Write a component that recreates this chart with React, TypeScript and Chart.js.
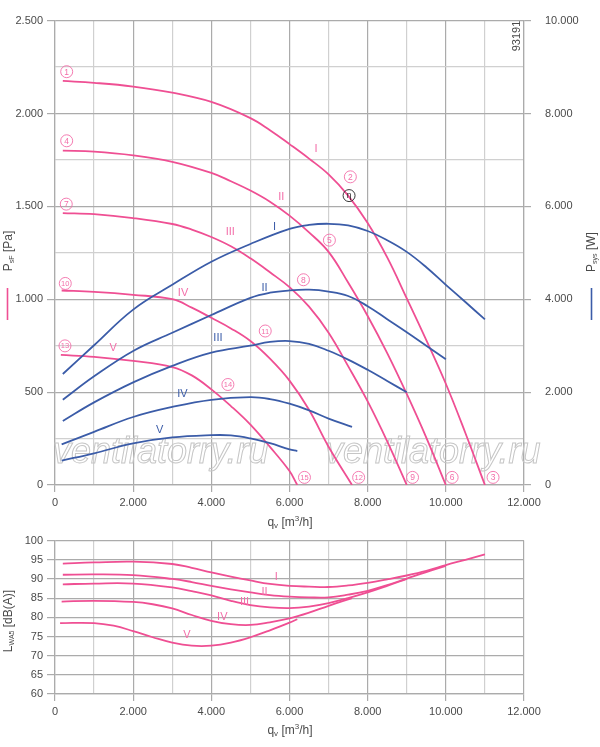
import React, { useEffect, useRef } from "react";
import { Chart, registerables } from "chart.js";
Chart.register(...registerables);

const FONT = "'Liberation Sans', Arial, sans-serif";
const PINK = "#ef4f93";
const PINK_LABEL = "#f36ea9";
const BLUE = "#3b5ca8";
const GRID_MAJOR = "#ababab";
const GRID_MINOR = "#d0d0d0";
const TEXT = "#4a4a4a";

// ---------- top chart: pressure curves p_sF [Pa] vs q_v [m3/h] ----------
const flowPressI = [200, 1000, 2000, 3000, 4000, 5000, 5500, 6000, 6500, 7000, 7500, 8000, 8500, 9000, 9500, 10000, 10500, 11000];
const pressI = [2175, 2165, 2145, 2112, 2062, 1975, 1910, 1835, 1757, 1672, 1558, 1410, 1225, 1005, 780, 545, 280, 0];
const flowPressII = [200, 1000, 2000, 3000, 4000, 4500, 5000, 5500, 6000, 6500, 7000, 7500, 8000, 8500, 9000, 9500, 10000];
const pressII = [1800, 1795, 1775, 1740, 1680, 1635, 1585, 1525, 1450, 1360, 1255, 1090, 910, 710, 490, 255, 0];
const flowPressIII = [200, 1000, 2000, 3000, 3500, 4000, 4500, 5000, 5500, 6000, 6500, 7000, 7500, 8000, 8500, 9000];
const pressIII = [1464, 1458, 1437, 1405, 1375, 1335, 1285, 1220, 1145, 1065, 960, 820, 640, 450, 235, 0];
const flowPressIV = [170, 1000, 2000, 3000, 3500, 4000, 4500, 5000, 5500, 6000, 6500, 7000, 7600];
const pressIV = [1047, 1040, 1024, 1000, 955, 900, 843, 775, 680, 562, 405, 206, 0];
const flowPressV = [150, 1000, 2000, 3000, 3500, 4000, 4500, 5000, 5500, 6000, 6200];
const pressV = [700, 690, 668, 635, 590, 515, 425, 325, 205, 75, 0];

// ---------- top chart: power curves P_sys [W] ----------
const flowPowI = [200, 1000, 2000, 3000, 4000, 5000, 6000, 6500, 7000, 7500, 8000, 8500, 9000, 9500, 10000, 10500, 11000];
const powI = [2390, 3010, 3777, 4311, 4808, 5190, 5515, 5600, 5625, 5590, 5470, 5270, 5020, 4690, 4311, 3940, 3565];
const flowPowII = [200, 1000, 2000, 3000, 4000, 5000, 5500, 6000, 6500, 7000, 7500, 8000, 8500, 9000, 9500, 10000];
const powII = [1835, 2340, 2887, 3278, 3660, 4030, 4140, 4190, 4205, 4165, 4070, 3850, 3570, 3290, 3000, 2710];
const flowPowIII = [200, 1000, 2000, 3000, 4000, 5000, 5500, 6000, 6500, 7000, 7500, 8000, 8500, 9000];
const powIII = [1380, 1780, 2211, 2567, 2851, 3000, 3080, 3100, 3040, 2890, 2700, 2480, 2240, 1997];
const flowPowIV = [170, 1000, 2000, 3000, 4000, 5000, 5500, 6000, 6500, 7000, 7600];
const powIV = [875, 1145, 1464, 1680, 1835, 1891, 1850, 1750, 1607, 1430, 1251];
const flowPowV = [170, 1000, 2000, 3000, 4000, 4500, 5000, 5500, 6000, 6200];
const powV = [525, 683, 896, 1024, 1073, 1068, 1003, 900, 768, 732];

// ---------- bottom chart: sound power L_WA5 [dB(A)] ----------
const flowSoundI = [200, 1000, 2000, 3000, 3500, 4000, 4500, 5000, 5500, 6000, 6500, 7000, 7500, 8000, 8500, 9000, 9500, 10000, 10500, 11000];
const soundI = [94.0, 94.3, 94.5, 93.9, 92.9, 91.7, 90.6, 89.6, 88.7, 88.2, 88.0, 87.9, 88.3, 89.0, 89.9, 90.9, 92.1, 93.6, 95.0, 96.4];
const flowSoundII = [200, 1000, 2000, 3000, 3500, 4000, 4500, 5000, 5500, 6000, 6500, 7000, 7500, 8000, 8500, 9000, 9500, 10000];
const soundII = [91.1, 91.2, 91.0, 90.0, 89.2, 88.2, 87.3, 86.5, 85.8, 85.4, 85.2, 85.2, 85.9, 86.9, 88.4, 90.1, 91.8, 93.4];
const flowSoundIII = [200, 1000, 2000, 3000, 3500, 4000, 4500, 5000, 5500, 6000, 6500, 7000, 7500, 8000, 8500, 9000];
const soundIII = [88.6, 88.8, 88.8, 87.8, 86.8, 85.7, 84.3, 83.2, 82.6, 82.4, 82.8, 83.7, 85.0, 86.5, 88.2, 90.0];
const flowSoundIV = [170, 1000, 2000, 2500, 3000, 3500, 4000, 4500, 5000, 5500, 6000, 6500, 7000, 7600];
const soundIV = [84.1, 84.3, 84.0, 83.4, 82.3, 80.6, 79.1, 78.2, 78.0, 78.7, 79.7, 81.2, 83.0, 85.0];
const flowSoundV = [130, 1000, 1500, 2000, 2500, 3000, 3500, 4000, 4500, 5000, 5500, 6000, 6200];
const soundV = [78.5, 78.5, 77.8, 76.4, 74.8, 73.4, 72.6, 72.6, 73.4, 74.8, 76.6, 78.6, 79.5];

// ---------- axis ticks ----------
const flowMin = 0, flowMax = 12000, flowStep = 1000, flowLabelStep = 2000;
const pressMin = 0, pressMax = 2500, pressStep = 250, pressLabelStep = 500;
const powMin = 0, powMax = 10000, powStep = 2000;
const soundMin = 60, soundMax = 100, soundStep = 5;

// ---------- text labels (anchored in data coordinates) ----------
const romanNames = ["I", "II", "III", "IV", "V"];
const pinkLabelFlow = [6681, 5788, 4486, 3276, 1488];
const pinkLabelPress = [1807, 1553, 1362, 1033, 736];
const blueLabelFlow = [5617, 5361, 4169, 3260, 2681];
const blueLabelPress = [1389, 1063, 790, 491, 294];
const pointNumbers = ["1", "2", "3", "4", "5", "6", "7", "8", "9", "10", "11", "12", "13", "14", "15"];
const pointFlow = [299, 7557, 11208, 299, 7021, 10161, 288, 6357, 9148, 263, 5379, 7769, 255, 4424, 6383];
const pointPress = [2225, 1659, 41, 1853, 1318, 41, 1512, 1105, 41, 1085, 829, 41, 749, 541, 41];
const etaFlow = 7524, etaPress = 1558;
const soundLabelFlow = [5660, 5361, 4851, 4281, 3378];
const soundLabelDb = [90.6, 86.6, 84.1, 80.0, 75.3];

const TOP_H = 530;
const BOT_H = 217;

const pts = (xs: number[], ys: number[]) => xs.map((x, i) => ({ x, y: ys[i] }));
const fmt = (v: number) => String(Math.round(v)).replace(/\B(?=(\d{3})+(?!\d))/g, ".");

type Part = { text: string; size: number; dy?: number };
function drawRich(ctx: CanvasRenderingContext2D, parts: Part[], cx: number, cy: number, rotate: boolean) {
  ctx.save();
  ctx.translate(cx, cy);
  if (rotate) ctx.rotate(-Math.PI / 2);
  let total = 0;
  const widths = parts.map((p) => {
    ctx.font = `${p.size}px ${FONT}`;
    const w = ctx.measureText(p.text).width;
    total += w;
    return w;
  });
  let x = -total / 2;
  ctx.textBaseline = "middle";
  ctx.textAlign = "left";
  ctx.fillStyle = TEXT;
  parts.forEach((p, i) => {
    ctx.font = `${p.size}px ${FONT}`;
    ctx.fillText(p.text, x, p.dy || 0);
    x += widths[i];
  });
  ctx.restore();
}

function drawCircled(ctx: CanvasRenderingContext2D, text: string, px: number, py: number, color: string) {
  ctx.beginPath();
  ctx.arc(px, py, 6, 0, Math.PI * 2);
  ctx.strokeStyle = color;
  ctx.lineWidth = 0.9;
  ctx.stroke();
  ctx.font = `${text.length > 1 ? 7.5 : 8.5}px ${FONT}`;
  ctx.fillStyle = color;
  ctx.textAlign = "center";
  ctx.textBaseline = "middle";
  ctx.fillText(text, px, py + 0.5);
}

const qvTitle: Part[] = [
  { text: "q", size: 12 },
  { text: "v", size: 8, dy: 3 },
  { text: " [m", size: 12 },
  { text: "3", size: 8, dy: -4 },
  { text: "/h]", size: 12 },
];

function flowAxis(height: number) {
  return {
    type: "linear" as const,
    min: flowMin,
    max: flowMax,
    afterFit: (s: any) => {
      s.height = height;
    },
    ticks: {
      stepSize: flowStep,
      autoSkip: false,
      maxRotation: 0,
      padding: 4,
      color: TEXT,
      font: { family: FONT, size: 11 },
      callback: (v: any) => (Number(v) % flowLabelStep === 0 ? fmt(Number(v)) : ""),
    },
    grid: {
      color: (c: any) => (c.tick && c.tick.value % flowLabelStep === 0 ? GRID_MAJOR : GRID_MINOR),
      tickColor: (c: any) => (c.tick && c.tick.value % flowLabelStep === 0 ? GRID_MAJOR : "rgba(0,0,0,0)"),
      lineWidth: 1.2,
      tickLength: 7,
    },
    border: { color: GRID_MAJOR, width: 1.2 },
  };
}

export default function App() {
  const topRef = useRef<HTMLCanvasElement>(null);
  const botRef = useRef<HTMLCanvasElement>(null);

  useEffect(() => {
    Chart.defaults.font.family = FONT;
    const line = (data: any[], color: string, axis: string) => ({
      data,
      borderColor: color,
      backgroundColor: color,
      borderWidth: 1.8,
      pointRadius: 0,
      fill: false,
      tension: 0.4,
      yAxisID: axis,
    });

    const pressFlows = [flowPressI, flowPressII, flowPressIII, flowPressIV, flowPressV];
    const pressVals = [pressI, pressII, pressIII, pressIV, pressV];
    const powFlows = [flowPowI, flowPowII, flowPowIII, flowPowIV, flowPowV];
    const powVals = [powI, powII, powIII, powIV, powV];
    const soundFlows = [flowSoundI, flowSoundII, flowSoundIII, flowSoundIV, flowSoundV];
    const soundVals = [soundI, soundII, soundIII, soundIV, soundV];

    const topDatasets = [
      ...powFlows.map((f, i) => line(pts(f, powVals[i]), BLUE, "yW")),
      ...pressFlows.map((f, i) => line(pts(f, pressVals[i]), PINK, "y")),
    ];

    const topOverlay = {
      id: "topOverlay",
      beforeDatasetsDraw(chart: any) {
        const ctx = chart.ctx as CanvasRenderingContext2D;
        ctx.save();
        ctx.font = `italic 36px ${FONT}`;
        ctx.strokeStyle = "#c6c6c6";
        ctx.lineWidth = 1;
        ctx.textAlign = "left";
        ctx.textBaseline = "alphabetic";
        ctx.strokeText("ventilatorry.ru", 53, 463);
        ctx.strokeText("ventilatorry.ru", 325, 463);
        ctx.restore();
      },
      afterDraw(chart: any) {
        const ctx = chart.ctx as CanvasRenderingContext2D;
        const x = chart.scales.x;
        const y = chart.scales.y;
        ctx.save();
        ctx.font = `11px ${FONT}`;
        ctx.textAlign = "center";
        ctx.textBaseline = "middle";
        romanNames.forEach((n, i) => {
          ctx.fillStyle = PINK_LABEL;
          ctx.fillText(n, x.getPixelForValue(pinkLabelFlow[i]), y.getPixelForValue(pinkLabelPress[i]));
          ctx.fillStyle = BLUE;
          ctx.fillText(n, x.getPixelForValue(blueLabelFlow[i]), y.getPixelForValue(blueLabelPress[i]));
        });
        pointNumbers.forEach((n, i) => {
          drawCircled(ctx, n, x.getPixelForValue(pointFlow[i]), y.getPixelForValue(pointPress[i]), PINK_LABEL);
        });
        drawCircled(ctx, "η", x.getPixelForValue(etaFlow), y.getPixelForValue(etaPress), "#222");
        ctx.save();
        ctx.translate(517, 36);
        ctx.rotate(-Math.PI / 2);
        ctx.font = `11px ${FONT}`;
        ctx.fillStyle = TEXT;
        ctx.textAlign = "center";
        ctx.textBaseline = "middle";
        ctx.fillText("93191", 0, 0);
        ctx.restore();
        drawRich(ctx, [{ text: "P", size: 12 }, { text: "sF", size: 7, dy: 3 }, { text: " [Pa]", size: 12 }], 9, 251, true);
        drawRich(ctx, [{ text: "P", size: 12 }, { text: "sys", size: 7, dy: 3 }, { text: " [W]", size: 12 }], 592, 252, true);
        drawRich(ctx, qvTitle, 290, 523, false);
        ctx.lineWidth = 1.6;
        ctx.strokeStyle = PINK;
        ctx.beginPath();
        ctx.moveTo(7.5, 288);
        ctx.lineTo(7.5, 320);
        ctx.stroke();
        ctx.strokeStyle = BLUE;
        ctx.beginPath();
        ctx.moveTo(591.5, 288);
        ctx.lineTo(591.5, 320);
        ctx.stroke();
        ctx.restore();
      },
    };

    const top = new Chart(topRef.current as HTMLCanvasElement, {
      type: "line",
      data: { datasets: topDatasets as any },
      options: {
        animation: false,
        responsive: false,
        maintainAspectRatio: false,
        layout: { padding: { top: 17, left: 0, right: 0, bottom: 0 } },
        plugins: { legend: { display: false }, tooltip: { enabled: false } },
        scales: {
          x: flowAxis(TOP_H - 485) as any,
          y: {
            type: "linear",
            position: "left",
            min: pressMin,
            max: pressMax,
            afterFit: (s: any) => {
              s.width = 55;
            },
            ticks: {
              stepSize: pressStep,
              autoSkip: false,
              padding: 4,
              color: TEXT,
              font: { family: FONT, size: 11 },
              callback: (v: any) => (Number(v) % pressLabelStep === 0 ? fmt(Number(v)) : ""),
            },
            grid: {
              color: (c: any) => (c.tick && c.tick.value % pressLabelStep === 0 ? GRID_MAJOR : GRID_MINOR),
              tickColor: (c: any) => (c.tick && c.tick.value % pressLabelStep === 0 ? GRID_MAJOR : "rgba(0,0,0,0)"),
              lineWidth: 1.2,
              tickLength: 8,
            },
            border: { color: GRID_MAJOR, width: 1.2 },
          },
          yW: {
            type: "linear",
            position: "right",
            min: powMin,
            max: powMax,
            afterFit: (s: any) => {
              s.width = 76;
            },
            ticks: {
              stepSize: powStep,
              autoSkip: false,
              padding: 14,
              color: TEXT,
              font: { family: FONT, size: 11 },
              callback: (v: any) => fmt(Number(v)),
            },
            grid: { drawOnChartArea: false, tickLength: 7, tickColor: GRID_MAJOR, lineWidth: 1.2 },
            border: { color: GRID_MAJOR, width: 1.2 },
          },
        },
      },
      plugins: [topOverlay],
    });

    const botOverlay = {
      id: "botOverlay",
      afterDraw(chart: any) {
        const ctx = chart.ctx as CanvasRenderingContext2D;
        const x = chart.scales.x;
        const y = chart.scales.y;
        ctx.save();
        ctx.font = `11px ${FONT}`;
        ctx.textAlign = "center";
        ctx.textBaseline = "middle";
        ctx.fillStyle = PINK_LABEL;
        romanNames.forEach((n, i) => {
          ctx.fillText(n, x.getPixelForValue(soundLabelFlow[i]), y.getPixelForValue(soundLabelDb[i]));
        });
        drawRich(ctx, [{ text: "L", size: 12 }, { text: "WA5", size: 7, dy: 3 }, { text: " [dB(A)]", size: 12 }], 9, 91, true);
        drawRich(ctx, qvTitle, 290, 201, false);
        ctx.restore();
      },
    };

    const bot = new Chart(botRef.current as HTMLCanvasElement, {
      type: "line",
      data: { datasets: soundFlows.map((f, i) => line(pts(f, soundVals[i]), PINK, "y")) as any },
      options: {
        animation: false,
        responsive: false,
        maintainAspectRatio: false,
        layout: { padding: { top: 8, left: 0, right: 76, bottom: 0 } },
        plugins: { legend: { display: false }, tooltip: { enabled: false } },
        scales: {
          x: flowAxis(BOT_H - 164) as any,
          y: {
            type: "linear",
            position: "left",
            min: soundMin,
            max: soundMax,
            afterFit: (s: any) => {
              s.width = 55;
            },
            ticks: {
              stepSize: soundStep,
              autoSkip: false,
              padding: 4,
              color: TEXT,
              font: { family: FONT, size: 11 },
            },
            grid: { color: GRID_MAJOR, tickColor: GRID_MAJOR, lineWidth: 1.2, tickLength: 8 },
            border: { color: GRID_MAJOR, width: 1.2 },
          },
        },
      },
      plugins: [botOverlay],
    });

    return () => {
      top.destroy();
      bot.destroy();
    };
  }, []);

  return (
    <div style={{ position: "absolute", left: 0, top: 0, width: 600, height: 747, background: "#fff" }}>
      <canvas
        ref={topRef}
        width={600}
        height={TOP_H}
        style={{ position: "absolute", left: 0, top: 0, width: 600, height: TOP_H }}
      />
      <canvas
        ref={botRef}
        width={600}
        height={BOT_H}
        style={{ position: "absolute", left: 0, top: TOP_H, width: 600, height: BOT_H }}
      />
    </div>
  );
}
